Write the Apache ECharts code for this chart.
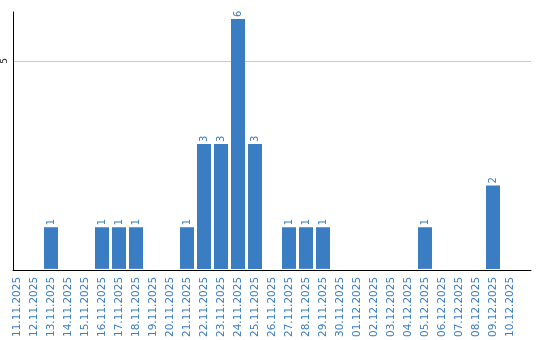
<!DOCTYPE html>
<html><head><meta charset="utf-8">
<script src="https://cdn.jsdelivr.net/npm/echarts@6/dist/echarts.min.js"></script>
<style>html,body{margin:0;padding:0;background:#fff}#c{width:540px;height:340px}</style>
</head><body><div id="c"></div>
<script>
const categories = ['11.11.2025','12.11.2025','13.11.2025','14.11.2025','15.11.2025','16.11.2025','17.11.2025','18.11.2025','19.11.2025','20.11.2025','21.11.2025','22.11.2025','23.11.2025','24.11.2025','25.11.2025','26.11.2025','27.11.2025','28.11.2025','29.11.2025','30.11.2025','01.12.2025','02.12.2025','03.12.2025','04.12.2025','05.12.2025','06.12.2025','07.12.2025','08.12.2025','09.12.2025','10.12.2025'];
const values = [0,0,1,0,0,1,1,1,0,0,1,3,3,6,3,0,1,1,1,0,0,0,0,0,1,0,0,0,2,0];
const yMax = 6.17;
const blue = '#3b7dc3';
const chart = echarts.init(document.getElementById('c'));
chart.setOption({
  animation: false,
  grid: [
    {left: 8.5, right: 21.5, top: 12, bottom: 70},
    {left: 10, right: 9, top: 12, bottom: 70}
  ],
  xAxis: [
    {type: 'category', gridIndex: 0, data: categories,
     axisLine: {show: false}, axisTick: {show: false},
     axisLabel: {rotate: 90, interval: 0, color: blue, fontFamily: 'DejaVu Sans', fontSize: 10.5, margin: 8}},
    {type: 'category', gridIndex: 1, data: categories,
     axisLine: {show: true, lineStyle: {color: '#000', width: 1}}, axisTick: {show: false}, axisLabel: {show: false}}
  ],
  yAxis: [
    {type: 'value', gridIndex: 0, min: 0, max: yMax, show: false, splitLine: {show: false}},
    {type: 'value', gridIndex: 1, min: 0, max: yMax, interval: 5,
     axisLine: {show: true, lineStyle: {color: '#000', width: 1}}, axisTick: {show: false},
     splitLine: {show: true, showMinLine: false, showMaxLine: false, lineStyle: {color: '#c8c8c8', width: 1}},
     axisLabel: {rotate: 90, showMinLabel: false, showMaxLabel: false, color: '#222', fontFamily: 'DejaVu Sans', fontSize: 9, margin: 4,
       formatter: v => (v === 5 ? '5' : '')}}
  ],
  series: [{
    type: 'bar', xAxisIndex: 0, yAxisIndex: 0,
    data: values.map(v => v === 0 ? null : v),
    barWidth: 14,
    itemStyle: {color: blue},
    label: {show: true, position: 'top', rotate: 90, align: 'left', verticalAlign: 'middle', distance: 2,
      color: blue, fontFamily: 'DejaVu Sans', fontSize: 10}
  }]
});
</script></body></html>
